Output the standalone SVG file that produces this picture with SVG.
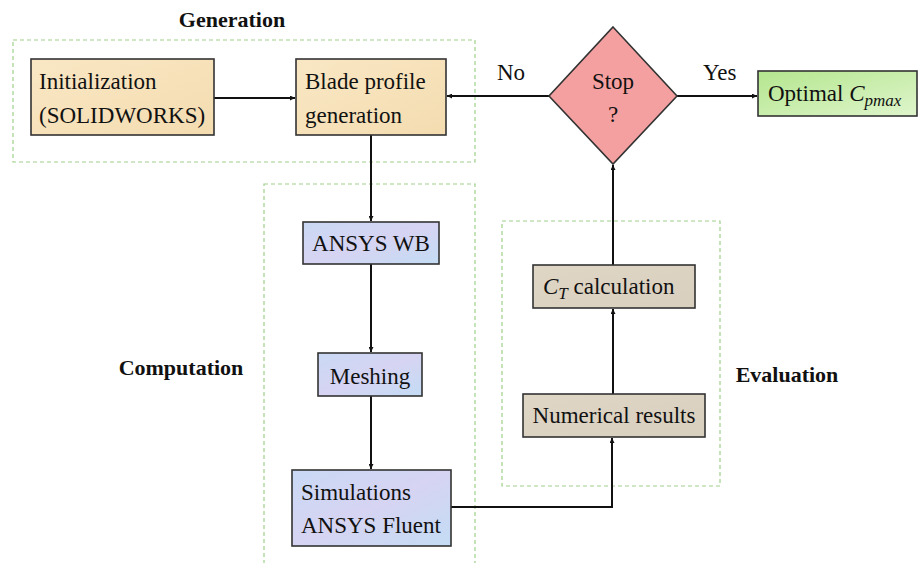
<svg xmlns="http://www.w3.org/2000/svg" width="920" height="563" viewBox="0 0 920 563">
<style>
.t{font-family:"Liberation Serif","Times New Roman",serif;font-size:23px;fill:#111}
.h{font-family:"Liberation Serif","Times New Roman",serif;font-size:22px;font-weight:bold;fill:#111}
.i{font-style:italic}
.grp{fill:none;stroke:#9fd08a;stroke-width:1.2;stroke-dasharray:4 3}
.box{stroke:#333;stroke-width:1.6}
.c{fill:none;stroke:#111;stroke-width:2}
</style>
<defs>
<marker id="ah" viewBox="0 0 10 10" refX="10" refY="5" markerWidth="5" markerHeight="5" orient="auto-start-reverse" markerUnits="userSpaceOnUse">
<path d="M0,0 L10,5 L0,10 z" fill="#111"/>
</marker>
<linearGradient id="beige" x1="0" y1="0" x2="1" y2="1"><stop offset="0" stop-color="#f9e7c4"/><stop offset="1" stop-color="#f4dcb0"/></linearGradient>
<linearGradient id="blue" x1="0" y1="0" x2="1" y2="1"><stop offset="0" stop-color="#c9d9f5"/><stop offset="0.5" stop-color="#d6d4f2"/><stop offset="1" stop-color="#c4dcf4"/></linearGradient>
<linearGradient id="tan" x1="0" y1="0" x2="1" y2="1"><stop offset="0" stop-color="#e0d6c6"/><stop offset="1" stop-color="#d9cfbf"/></linearGradient>
<linearGradient id="green" x1="0" y1="0" x2="1" y2="1"><stop offset="0" stop-color="#b4e68e"/><stop offset="1" stop-color="#dff5cc"/></linearGradient>
</defs>

<g id="groups">
<rect class="grp" x="13" y="40" width="462" height="122"/>
<rect class="grp" x="264" y="184" width="211" height="385"/>
<rect class="grp" x="502" y="221" width="218" height="265"/>
<text class="h" x="232" y="27" text-anchor="middle">Generation</text>
<text class="h" x="181" y="375" text-anchor="middle">Computation</text>
<text class="h" x="787" y="382" text-anchor="middle">Evaluation</text>
</g>

<g id="connectors">
<line class="c" x1="214" y1="98" x2="295" y2="98" marker-end="url(#ah)"/>
<line class="c" x1="549" y1="96" x2="447" y2="96" marker-end="url(#ah)"/>
<line class="c" x1="677" y1="96" x2="757" y2="96" marker-end="url(#ah)"/>
<line class="c" x1="371" y1="135" x2="371" y2="221" marker-end="url(#ah)"/>
<line class="c" x1="371" y1="264" x2="371" y2="352" marker-end="url(#ah)"/>
<line class="c" x1="371" y1="396" x2="371" y2="469" marker-end="url(#ah)"/>
<polyline class="c" points="451,507 612,507 612,438" marker-end="url(#ah)"/>
<line class="c" x1="613" y1="394" x2="613" y2="309" marker-end="url(#ah)"/>
<line class="c" x1="613" y1="265" x2="613" y2="165" marker-end="url(#ah)"/>
<text class="t" x="497" y="80">No</text>
<text class="t" x="703" y="80">Yes</text>
</g>

<g id="init">
<rect class="box" x="31" y="59" width="183" height="76" fill="url(#beige)"/>
<text class="t" x="39" y="89">Initialization</text>
<text class="t" x="39" y="123">(SOLIDWORKS)</text>
</g>

<g id="blade">
<rect class="box" x="296" y="59" width="150" height="76" fill="url(#beige)"/>
<text class="t" x="305" y="89">Blade profile</text>
<text class="t" x="305" y="123">generation</text>
</g>

<g id="stop">
<polygon class="box" points="613,27 677,96 613,164 549,96" fill="#f5a0a0"/>
<text class="t" x="613" y="89" text-anchor="middle">Stop</text>
<text class="t" x="613" y="122" text-anchor="middle">?</text>
</g>

<g id="optimal">
<rect class="box" x="758" y="71" width="159" height="45" fill="url(#green)"/>
<text class="t" x="768" y="101">Optimal <tspan class="i">C</tspan><tspan class="i" font-size="17" dy="5">pmax</tspan></text>
</g>

<g id="ansyswb">
<rect class="box" x="303" y="222" width="136" height="42" fill="url(#blue)"/>
<text class="t" x="371" y="251" text-anchor="middle">ANSYS WB</text>
</g>

<g id="meshing">
<rect class="box" x="318" y="353" width="104" height="43" fill="url(#blue)"/>
<text class="t" x="370" y="384" text-anchor="middle">Meshing</text>
</g>

<g id="simulations">
<rect class="box" x="292" y="470" width="159" height="76" fill="url(#blue)"/>
<text class="t" x="301" y="500">Simulations</text>
<text class="t" x="301" y="533">ANSYS Fluent</text>
</g>

<g id="ct">
<rect class="box" x="533" y="265" width="162" height="43" fill="url(#tan)"/>
<text class="t" x="543" y="294"><tspan class="i">C</tspan><tspan class="i" font-size="17" dy="5">T</tspan><tspan dy="-5"> calculation</tspan></text>
</g>

<g id="numerical">
<rect class="box" x="523" y="394" width="182" height="43" fill="url(#tan)"/>
<text class="t" x="614" y="423" text-anchor="middle">Numerical results</text>
</g>
</svg>
